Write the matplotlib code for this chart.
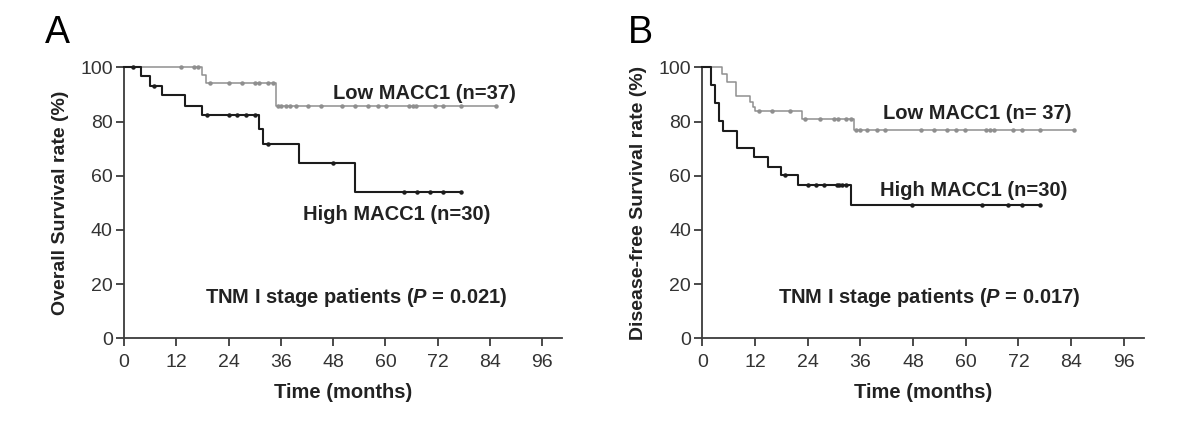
import numpy as np
import matplotlib
import matplotlib.pyplot as plt

# panel A: overall survival
a_low_t = [0, 17.8, 18.9, 34.9]
a_low_s = [100, 97.2, 94.3, 85.8]
a_low_cens = [13.0, 16.0, 16.9, 19.8, 24.0, 27.1, 30.1, 30.9, 33.0, 34.1, 35.3, 36.1, 37.2,
              38.2, 39.5, 42.2, 45.1, 50.0, 53.1, 56.1, 58.2, 60.2, 65.3, 66.3, 67.1, 71.3,
              73.3, 77.4, 85.4]
a_high_t = [0, 3.9, 6.0, 8.8, 14.0, 17.9, 30.9, 32.0, 40.2, 53.0]
a_high_s = [100, 96.8, 93.2, 89.6, 85.8, 82.5, 77.3, 71.7, 64.6, 54.0]
a_high_cens = [2.0, 7.0, 19.0, 24.1, 26.0, 28.1, 30.1, 33.1, 48.0, 64.2, 67.2, 70.2, 73.3, 77.3]

# panel B: disease-free survival
b_low_t = [0, 4.5, 5.7, 7.6, 10.8, 11.5, 12.1, 22.8, 34.5]
b_low_s = [100, 97.4, 94.7, 89.4, 87.3, 85.5, 83.7, 81.0, 76.8]
b_low_cens = [12.9, 15.9, 19.9, 23.4, 26.9, 30.0, 30.8, 32.7, 33.8, 34.9, 35.9, 37.4, 39.7,
              41.7, 49.7, 52.8, 55.8, 57.8, 59.8, 64.6, 65.5, 66.4, 70.8, 72.8, 76.8, 84.7]
b_high_t = [0, 2.0, 2.9, 3.8, 4.8, 8.0, 11.8, 15.0, 17.9, 21.8, 33.8]
b_high_s = [100, 93.5, 86.8, 80.2, 76.6, 70.1, 66.8, 63.3, 60.2, 56.5, 49.3]
b_high_cens = [18.9, 24.1, 25.9, 27.8, 30.6, 31.2, 31.9, 32.7, 47.7, 63.6, 69.7, 72.8, 76.8]

ytick_vals = [0, 20, 40, 60, 80, 100]
xtick_vals = [0, 12, 24, 36, 48, 60, 72, 84, 96]

GRAY = '#8f8f8f'
BLACK = '#1c1c1c'
AXC = '#3c3c3c'
FONT = ['Liberation Sans', 'DejaVu Sans']
NARROW = ['Liberation Sans Narrow', 'Liberation Sans', 'DejaVu Sans']


def km(ax, t, s, cens, color, lw):
    end = max(cens[-1], t[-1])
    tt = list(t) + [end]
    ss = list(s) + [s[-1]]
    ax.step(tt, ss, where='post', color=color, linewidth=lw, clip_on=False, zorder=3)
    idx = np.searchsorted(t, cens, side='right') - 1
    cy = np.array(s)[idx]
    ax.plot(cens, cy, linestyle='none', marker='o', markersize=2.2, color=color,
            clip_on=False, zorder=4)


def style(ax, ylabel):
    ax.set_xlim(0, 100.5)
    ax.set_ylim(0, 100)
    ax.spines['top'].set_visible(False)
    ax.spines['right'].set_visible(False)
    for sp in ['left', 'bottom']:
        ax.spines[sp].set_color(AXC)
        ax.spines[sp].set_linewidth(1.3)
    ax.set_xticks(xtick_vals)
    ax.set_yticks(ytick_vals)
    ax.tick_params(axis='both', direction='out', length=6, width=1.3, color=AXC,
                   labelcolor='#333333', labelsize=14)
    ax.tick_params(axis='y', pad=2)
    ax.tick_params(axis='x', pad=5)
    for lab in ax.get_xticklabels() + ax.get_yticklabels():
        lab.set_family(NARROW)
    ax.set_xlabel('Time (months)', fontsize=14.5, fontweight='bold', family=FONT,
                  color='#222222')
    ax.set_ylabel(ylabel, fontsize=14, fontweight='bold', family=NARROW, color='#222222')
    ax.xaxis.set_label_coords(0.5, -0.165)
    ax.yaxis.set_label_coords(-0.125, 0.5)


def main():
    matplotlib.rcParams['mathtext.fontset'] = 'custom'
    matplotlib.rcParams['mathtext.bfit'] = 'Liberation Sans:bold:italic'

    fig = plt.figure(figsize=(12, 4.23), dpi=100)
    axA = fig.add_axes([0.1033, 0.2002, 0.365, 0.6407])
    axB = fig.add_axes([0.5853, 0.2002, 0.3677, 0.6407])

    km(axA, a_low_t, a_low_s, a_low_cens, GRAY, 1.1)
    km(axA, a_high_t, a_high_s, a_high_cens, BLACK, 1.5)
    style(axA, 'Overall Survival rate (%)')
    axA.text(47.9, 90.3, 'Low MACC1 (n=37)', fontsize=14.5, fontweight='bold', family=FONT,
             color='#222222', va='center')
    axA.text(41.0, 45.6, 'High MACC1 (n=30)', fontsize=14.5, fontweight='bold', family=FONT,
             color='#222222', va='center')
    axA.text(18.6, 15.2, 'TNM I stage patients ($\\bfit{P}$ = 0.021)', fontsize=14.5,
             fontweight='bold', family=FONT, color='#222222', va='center')

    km(axB, b_low_t, b_low_s, b_low_cens, GRAY, 1.1)
    km(axB, b_high_t, b_high_s, b_high_cens, BLACK, 1.5)
    style(axB, 'Disease-free Survival rate (%)')
    axB.text(41.2, 83.0, 'Low MACC1 (n= 37)', fontsize=14.5, fontweight='bold', family=FONT,
             color='#222222', va='center')
    axB.text(40.5, 54.7, 'High MACC1 (n=30)', fontsize=14.5, fontweight='bold', family=FONT,
             color='#222222', va='center')
    axB.text(17.2, 15.2, 'TNM I stage patients ($\\bfit{P}$ = 0.017)', fontsize=14.5,
             fontweight='bold', family=FONT, color='#222222', va='center')

    fig.text(0.0375, 0.9645, 'A', fontsize=27, family=NARROW, va='top', ha='left')
    fig.text(0.523, 0.9645, 'B', fontsize=27, family=NARROW, va='top', ha='left')

    fig.savefig('out.png', dpi=100)


if __name__ == "__main__":
    main()
